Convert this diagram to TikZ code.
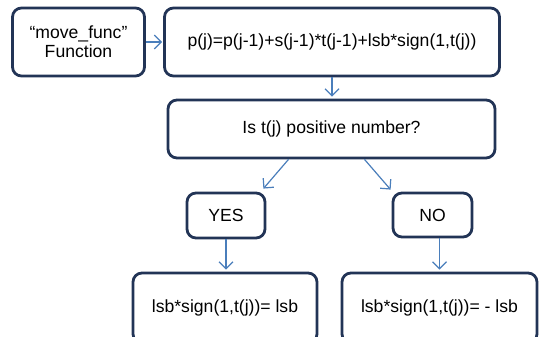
\documentclass[tikz,border=0pt]{standalone}
\usepackage{fontspec}
\setmainfont{Liberation Sans}
\usetikzlibrary{arrows.meta}

\definecolor{boxline}{RGB}{34,52,86}
\definecolor{flowline}{RGB}{74,126,187}

\tikzset{
  stepbox/.style={draw=boxline,line width=2.8pt,rounded corners=9pt,
    align=center,inner sep=2pt,font=\fontsize{17.6}{19}\selectfont},
  flow/.style={draw=flowline,line width=1.2pt,
    -{Straight Barb[length=7pt,width=14pt,line width=1.2pt]}},
}

\begin{document}
\begin{tikzpicture}[x=1pt,y=-1pt]
    \useasboundingbox (0,0) rectangle (539,337);
    \clip (0,0) rectangle (539,337);
    % boxes of the flow
    \node[stepbox,minimum width=132pt,minimum height=68pt] (func) at (78.5,42) {“move\_func”\\Function};
    \node[stepbox,minimum width=335pt,minimum height=68pt] (upd) at (332,42) {p(j)=p(j-1)+s(j-1)*t(j-1)+lsb*sign(1,t(j))};
    \node[stepbox,minimum width=327pt,minimum height=58pt] (test) at (331.5,129) {Is t(j) positive number?};
    \node[stepbox,minimum width=78pt,minimum height=45pt] (yes) at (226,215.5) {YES};
    \node[stepbox,minimum width=79pt,minimum height=44pt] (no) at (432.5,215) {NO};
    \node[stepbox,minimum width=184pt,minimum height=70pt] (pos) at (225,308) {lsb*sign(1,t(j))= lsb};
    \node[stepbox,minimum width=195pt,minimum height=70pt] (neg) at (439.5,308) {lsb*sign(1,t(j))= - lsb};
    % arrows
    \draw[flow,shorten >=1pt] (func.east) -- (upd.west);
    \draw[flow] (upd.south) -- ([yshift=2pt]upd.south |- test.north);
    \draw[flow] ([xshift=-43pt]test.south) -- ([xshift=-3pt,yshift=3pt]yes.north east);
    \draw[flow] ([xshift=33pt]test.south) -- ([xshift=-1pt,yshift=2pt]no.north west);
    \draw[flow] (yes.south) -- ([yshift=2pt]yes.south |- pos.north);
    \draw[flow] (neg.north |- no.south) -- ([yshift=2pt]neg.north);
\end{tikzpicture}
\end{document}
